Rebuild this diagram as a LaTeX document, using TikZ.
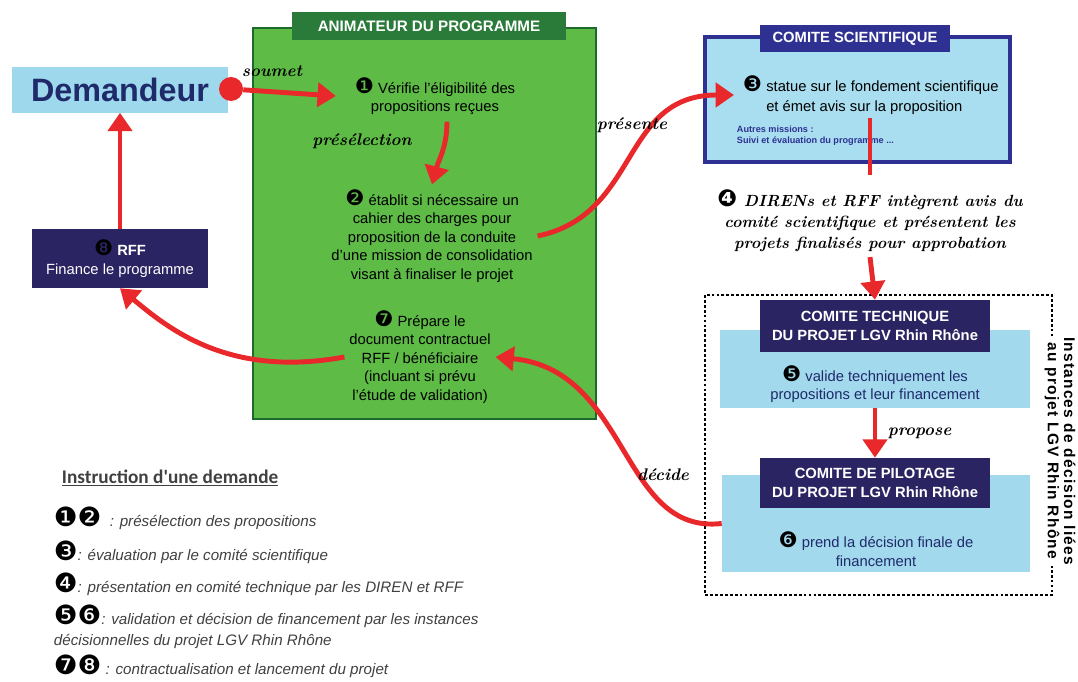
\documentclass[tikz,border=0pt]{standalone}
\usepackage{fontspec}
\setsansfont{Liberation Sans}
\renewcommand{\familydefault}{\sfdefault}
\newfontfamily\dingfont[Scale=1.45]{DejaVu Sans}
\newfontfamily\calib{Carlito}
\newfontfamily\espace[LetterSpace=8]{Liberation Sans}
\usetikzlibrary{arrows.meta}
\definecolor{rouge}{HTML}{E8282A}
\definecolor{demblue}{HTML}{9ED8EC}
\definecolor{demtext}{HTML}{1F2A6B}
\definecolor{vert}{HTML}{5DBB46}
\definecolor{vertfonce}{HTML}{1D6B2C}
\definecolor{ongletvert}{HTML}{2A7A3A}
\definecolor{marine}{HTML}{2B2462}
\definecolor{csblue}{HTML}{A9DEF0}
\definecolor{csborder}{HTML}{2E3192}
\definecolor{bande}{HTML}{A2D9EC}
\definecolor{legende}{HTML}{404040}
\newcommand{\cnum}[1]{{\dingfont #1}}
\newcommand{\hand}{\rmfamily\itshape\bfseries}

\begin{document}
\begin{tikzpicture}[x=0.025cm,y=-0.025cm,
    redarrow/.style={draw=rouge,line width=3.5pt,-{Triangle[length=13pt,width=17pt]}},
    redline/.style={draw=rouge,line width=3.5pt},
    lien/.style={font=\hand\fontsize{12}{14}\selectfont},
    corps/.style={align=center,font=\fontsize{10.5}{13.2}\selectfont},
    onglet/.style={text=white,font=\bfseries\fontsize{10.5}{12}\selectfont,align=center,inner sep=0pt},
    leg/.style={anchor=west,text=legende,font=\itshape\fontsize{10.8}{12}\selectfont}]
    \useasboundingbox (0,0) rectangle (1078,682);
    % demandeur et RFF
    \node[fill=demblue,minimum width=5.4cm,minimum height=1.125cm,text=demtext,
          font=\bfseries\fontsize{23}{26}\selectfont] (dem) at (120,90) {Demandeur};
    \node[fill=marine,minimum width=4.4cm,minimum height=1.475cm,text=white,align=center,
          font=\fontsize{10.5}{13.5}\selectfont] (rff) at (120,258.5)
          {\textcolor{black}{\cnum{❽}} \textbf{RFF}\\Finance le programme};
    % animateur
    \node[fill=vert,draw=vertfonce,line width=2pt,minimum width=8.575cm,minimum height=9.775cm] (anim) at (424.5,223.5) {};
    \node[fill=ongletvert,minimum width=6.85cm,minimum height=0.7cm,onglet,font=\bfseries\fontsize{10.8}{12}\selectfont] (animtab) at (429,26) {ANIMATEUR DU PROGRAMME};
    \node[corps] (t1) at (435,96) {\cnum{❶} Vérifie l'éligibilité des\\propositions reçues};
    \node[corps] (t2) at (432,236) {\cnum{❷} établit si nécessaire un\\cahier des charges pour\\proposition de la conduite\\d'une mission de consolidation\\visant à finaliser le projet};
    \node[corps] (t7) at (420,357) {\cnum{❼} Prépare le\\document contractuel\\RFF / bénéficiaire\\(incluant si prévu\\l'étude de validation)};
    % comite scientifique
    \node[fill=csblue,draw=csborder,line width=2.5pt,minimum width=7.625cm,minimum height=3.125cm] (cs) at (857.5,99.5) {};
    \node[fill=csborder,minimum width=4.75cm,minimum height=0.675cm,onglet] (cstab) at (855,38.5) {COMITE SCIENTIFIQUE};
    \node[align=left,font=\fontsize{10.5}{13.3}\selectfont,anchor=west] (t3) at (738,95) {\cnum{❸} statue sur le fondement scientifique\\\phantom{\cnum{❸}} et émet avis sur la proposition};
    \node[align=left,anchor=west,text=csborder,font=\bfseries\fontsize{6.5}{8}\selectfont] (t3b) at (732,136) {Autres missions :\\Suivi et évaluation du programme ...};
    \coordinate (c3) at (870,118);
    \node[align=center,font=\hand\fontsize{11.5}{15}\selectfont] (t4) at (870,221) {\cnum{❹} DIRENs et RFF intègrent avis du\\comité scientifique et présentent les\\projets finalisés pour approbation};
    % instances de decision
    \draw[dashed,dash pattern=on 2pt off 1.5pt,thick] (705,295) rectangle (1052,595);
    \node[fill=bande,minimum width=7.75cm,minimum height=1.95cm] (ctband) at (875,369) {};
    \node[fill=marine,minimum width=5.75cm,minimum height=1.3cm,onglet] (cthead) at (875,326) {COMITE TECHNIQUE\\[2pt]DU PROJET LGV Rhin Rhône};
    \node[corps,text=demtext] (t5) at (875,384) {\textcolor{black}{\cnum{❺}} valide techniquement les\\propositions et leur financement};
    \node[fill=bande,minimum width=7.7cm,minimum height=2.425cm] (cpband) at (876,523.5) {};
    \node[fill=marine,minimum width=5.75cm,minimum height=1.25cm,onglet] (cphead) at (875,483) {COMITE DE PILOTAGE\\[2pt]DU PROJET LGV Rhin Rhône};
    \node[corps,text=demtext] (t6) at (876,549) {\textcolor{black}{\cnum{❻}} prend la décision finale de\\financement};
    \node[rotate=-90,align=center,fill=white,inner sep=1pt,font=\espace\bfseries\fontsize{11}{11.5}\selectfont] (inst) at (1060,451) {Instances de décision liées\\au projet LGV Rhin Rhône};
    % fleches
    \node[circle,fill=rouge,minimum size=0.6cm,inner sep=0pt] (dot) at (231,89) {};
    \draw[redarrow] (dot) -- ([xshift=-0.35cm]t1.west);
    \node[lien] (lsou) at (272,71) {soumet};
    \draw[redarrow] (t1.south) ++(12,2) to[out=-90,in=75] (t2.north) ;
    \node[lien] (lpre) at (362,141) {présélection};
    \draw[redarrow] (t2.east) .. controls (640,215) and (620,95) .. ([xshift=-0.1cm]t3.west);
    \node[lien] (lpres) at (632,125) {présente};
    \draw[redline] (c3) -- ([yshift=0.25cm]t4.north);
    \draw[redarrow] (t4.south) -- (cthead.north);
    \draw[redarrow] (ctband.south) -- (cphead.north) node[lien,midway,right=4pt] {propose};
    \draw[redarrow] (cpband.west) .. controls (620,535) and (630,370) .. (t7.east);
    \node[lien] (ldec) at (663,475) {décide};
    \draw[redarrow] (t7.west) .. controls (230,378) and (170,330) .. (rff.south);
    \draw[redarrow] (rff.north) -- (dem.south);
    % legende
    \node[anchor=west,text=legende,font=\calib\bfseries\fontsize{13.7}{15}\selectfont] (legtitre) at (57,478) {\underline{Instruction d'une demande}};
    \node[leg] (l12) at (49,518) {\textcolor{black}{\fontsize{13}{14}\selectfont\cnum{❶❷}}\ \ : présélection des propositions};
    \node[leg] (l3) at (49,552) {\textcolor{black}{\fontsize{13}{14}\selectfont\cnum{❸}}: évaluation par le comité scientifique};
    \node[leg] (l4) at (49,584) {\textcolor{black}{\fontsize{13}{14}\selectfont\cnum{❹}}: présentation en comité technique par les DIREN et RFF};
    \node[leg] (l56) at (49,616) {\textcolor{black}{\fontsize{13}{14}\selectfont\cnum{❺❻}}: validation et décision de financement par les instances};
    \node[leg] (l56b) at (49,641) {décisionnelles du projet LGV Rhin Rhône};
    \node[leg] (l78) at (49,666) {\textcolor{black}{\fontsize{13}{14}\selectfont\cnum{❼❽}} : contractualisation et lancement du projet};
\end{tikzpicture}
\end{document}
